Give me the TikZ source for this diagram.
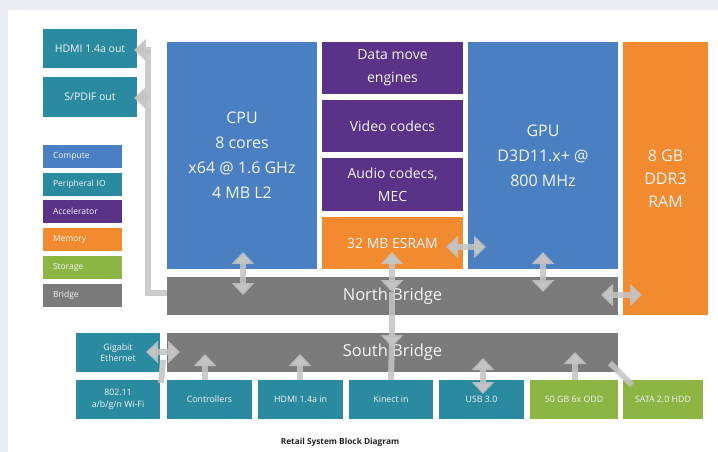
\documentclass[tikz,border=0pt]{standalone}
\usepackage{fontspec}
\setmainfont{Open Sans}
\usetikzlibrary{arrows.meta}
\definecolor{bgc}{HTML}{E8ECF0}
\definecolor{cmp}{HTML}{4A80C2}
\definecolor{per}{HTML}{2A8AA0}
\definecolor{acc}{HTML}{5A3388}
\definecolor{mem}{HTML}{F28A30}
\definecolor{sto}{HTML}{8CB544}
\definecolor{brg}{HTML}{7B7B7B}
\definecolor{connc}{HTML}{C4C4C4}
\definecolor{txtc}{HTML}{F2F4F8}
\definecolor{titc}{HTML}{222222}
\tikzset{
  blk/.style={anchor=north west, inner sep=0pt, outer sep=0pt, align=center, text=txtc},
  bigtxt/.style={font=\fontsize{16}{25}\selectfont},
  midtxt/.style={font=\fontsize{14}{23}\selectfont},
  smalltxt/.style={font=\fontsize{10.5}{12}\selectfont},
  tinytxt/.style={font=\fontsize{8.8}{11.5}\selectfont},
  legtxt/.style={font=\fontsize{8.5}{10}\selectfont, align=left, text width=79pt},
  conn/.style={draw=connc, draw opacity=0.85, line width=6pt},
  tipend/.style={conn, -{Triangle[width=22pt,length=12pt]}},
  tipboth/.style={conn, {Triangle[width=22pt,length=12pt]}-{Triangle[width=22pt,length=12pt]}}
}
\begin{document}
\begin{tikzpicture}[x=1pt,y=-1pt]
\useasboundingbox (0,0) rectangle (718,452);
\fill[bgc] (0,0) rectangle (718,452);
\fill[white] (8,10) rectangle (718,452);

\coordinate (c1) at (148,293);
\coordinate (c2) at (148,50);
\coordinate (c3) at (148,98);

% output boxes
\node[blk, fill=per, minimum width=94pt, minimum height=39pt, smalltxt] (hdmiout) at (43,29) {HDMI 1.4a out};
\node[blk, fill=per, minimum width=94pt, minimum height=40pt, smalltxt] (spdif) at (43,77) {S/PDIF out};

% legend
\node[blk, fill=cmp, minimum width=79pt, minimum height=23pt, legtxt] (lg1) at (43,145) {\hspace*{10pt}Compute};
\node[blk, fill=per, minimum width=79pt, minimum height=23pt, legtxt] (lg2) at (43,173) {\hspace*{10pt}Peripheral IO};
\node[blk, fill=acc, minimum width=79pt, minimum height=23pt, legtxt] (lg3) at (43,200) {\hspace*{10pt}Accelerator};
\node[blk, fill=mem, minimum width=79pt, minimum height=23pt, legtxt] (lg4) at (43,228) {\hspace*{10pt}Memory};
\node[blk, fill=sto, minimum width=79pt, minimum height=23pt, legtxt] (lg5) at (43,256) {\hspace*{10pt}Storage};
\node[blk, fill=brg, minimum width=79pt, minimum height=23pt, legtxt] (lg6) at (43,284) {\hspace*{10pt}Bridge};

% main blocks
\node[blk, fill=cmp, minimum width=150pt, minimum height=227pt, bigtxt] (cpu) at (167,42) {CPU\\8 cores\\x64 @ 1.6 GHz\\4 MB L2};
\node[blk, fill=acc, minimum width=141pt, minimum height=52pt, midtxt] (dme) at (322,42) {Data move\\engines};
\node[blk, fill=acc, minimum width=141pt, minimum height=52pt, midtxt] (vid) at (322,100) {Video codecs};
\node[blk, fill=acc, minimum width=141pt, minimum height=53pt, midtxt] (aud) at (322,158) {Audio codecs,\\MEC};
\node[blk, fill=mem, minimum width=141pt, minimum height=52pt, midtxt] (esram) at (322,217) {32 MB ESRAM};
\node[blk, fill=cmp, minimum width=150pt, minimum height=227pt, bigtxt] (gpu) at (468,42) {GPU\\D3D11.x+ @\\800 MHz};
\node[blk, fill=mem, minimum width=85pt, minimum height=273pt, font=\fontsize{16}{23}\selectfont] (ram) at (623,42) {8 GB\\DDR3\\RAM};
\node[blk, fill=brg, minimum width=451pt, minimum height=38pt, font=\fontsize{16.5}{20}\selectfont] (nb) at (167,277) {North Bridge};
\node[blk, fill=brg, minimum width=451pt, minimum height=39pt, font=\fontsize{16.5}{20}\selectfont] (sb) at (167,333) {South Bridge};

% peripherals
\node[blk, fill=per, minimum width=84pt, minimum height=39pt, tinytxt] (gbe) at (76,333) {Gigabit\\Ethernet};
\node[blk, fill=per, minimum width=84pt, minimum height=39pt, tinytxt] (wifi) at (76,380) {802.11\\a/b/g/n Wi-Fi};
\node[blk, fill=per, minimum width=85pt, minimum height=39pt, tinytxt] (ctrl) at (167,380) {Controllers};
\node[blk, fill=per, minimum width=85pt, minimum height=39pt, tinytxt] (hdmiin) at (258,380) {HDMI 1.4a in};
\node[blk, fill=per, minimum width=84pt, minimum height=39pt, tinytxt] (kinect) at (349,380) {Kinect in};
\node[blk, fill=per, minimum width=85pt, minimum height=39pt, tinytxt] (usb) at (439,380) {USB 3.0};
\node[blk, fill=sto, minimum width=88pt, minimum height=39pt, tinytxt] (odd) at (530,380) {50 GB 6x ODD};
\node[blk, fill=sto, minimum width=80pt, minimum height=39pt, tinytxt] (hdd) at (623,380) {SATA 2.0 HDD};

% title
\node[font=\fontsize{8.3}{10}\selectfont\bfseries, text=titc] (title) at (340,442) {Retail System Block Diagram};

% connectors on top
\draw[conn] (nb.west |- c1) -- (c1) -- (c2);
\draw[tipend] ([xshift=3pt]c2) -- ([xshift=-3pt]hdmiout.east |- c2);
\draw[tipend] (c3) -- ([xshift=-3pt]spdif.east |- c3);
\draw[tipboth] (243,252) -- (243,295);
\draw[tipboth] (392,252) -- (392,292);
\draw[tipend] (392,292) -- (392,347);
\draw[conn] (392,340) -- (kinect.north);
\draw[tipboth] (446,247) -- (486,247);
\draw[tipboth] (543,252) -- (543,292);
\draw[tipboth] (601,295) -- (642,295);
\draw[tipboth] (146,352) -- (180,352);
\draw[conn] (163,360) -- (161,383);
\draw[tipend] (ctrl.north -| 205,0) -- (205,354);
\draw[tipend] (hdmiin.north -| 300,0) -- (300,354);
\draw[tipboth] (483,358) -- (483,394);
\draw[tipend] (odd.north -| 575,0) -- (575,352);
\draw[conn] (610,363) -- (632,385);
\end{tikzpicture}
\end{document}
